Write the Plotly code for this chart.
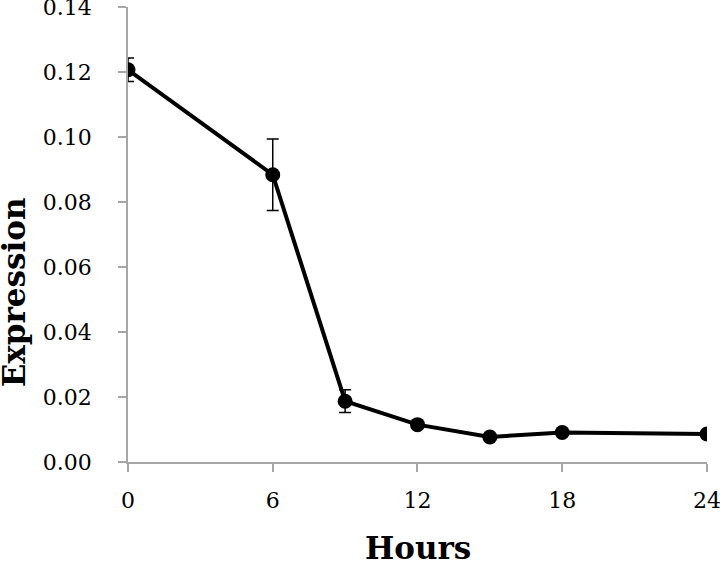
import plotly.graph_objects as go

hours = [0, 6, 9, 12, 15, 18, 24]
expression = [0.1207, 0.0884, 0.0187, 0.0115, 0.0077, 0.0091, 0.0086]
error = [0.0036, 0.011, 0.0035, 0.0008, 0.0006, 0.0006, 0.0006]
x_ticks = [0, 6, 12, 18, 24]
y_ticks = [0.00, 0.02, 0.04, 0.06, 0.08, 0.10, 0.12, 0.14]

fig = go.Figure()
fig.add_trace(go.Scatter(
    x=hours, y=expression, mode="lines+markers",
    line=dict(color="black", width=4),
    marker=dict(color="black", size=15),
    error_y=dict(type="data", array=error, visible=True, color="black", thickness=1.5, width=6),
    showlegend=False,
))

axis_color = "#a6a6a6"
fig.update_layout(
    width=720, height=564,
    margin=dict(l=128, r=13, t=7, b=102, autoexpand=False),
    paper_bgcolor="white", plot_bgcolor="white",
    font=dict(family="DejaVu Serif", size=22, color="black"),
    xaxis=dict(range=[0, 24.001], tickvals=x_ticks, ticktext=[str(v) for v in x_ticks],
               showgrid=False, zeroline=False, showline=True, linecolor=axis_color, linewidth=1.5,
               ticks="outside", ticklen=8, tickcolor=axis_color, tickwidth=1.5,
               ticklabelstandoff=10, ticklabeloverflow="allow", automargin=False),
    yaxis=dict(range=[0, 0.14001], tickvals=y_ticks, ticktext=[f"{v:.2f}" for v in y_ticks],
               showgrid=False, zeroline=False, showline=True, linecolor=axis_color, linewidth=1.5,
               ticks="outside", ticklen=8, tickcolor=axis_color, tickwidth=1.5,
               ticklabelstandoff=22, ticklabeloverflow="allow", automargin=False),
    annotations=[
        dict(text="<b>Hours</b>", xref="paper", yref="paper", x=0.5, y=0,
             xanchor="center", yanchor="middle", yshift=-86, showarrow=False,
             font=dict(family="DejaVu Serif", size=31, color="black")),
        dict(text="<b>Expression</b>", xref="paper", yref="paper", x=0, y=0.373,
             xanchor="center", yanchor="middle", xshift=-114, textangle=-90, showarrow=False,
             font=dict(family="DejaVu Serif", size=31, color="black")),
    ],
)

fig.write_html("out.html", config={"displayModeBar": False},
               post_script="document.body.style.margin='0';document.body.style.overflow='hidden';")
